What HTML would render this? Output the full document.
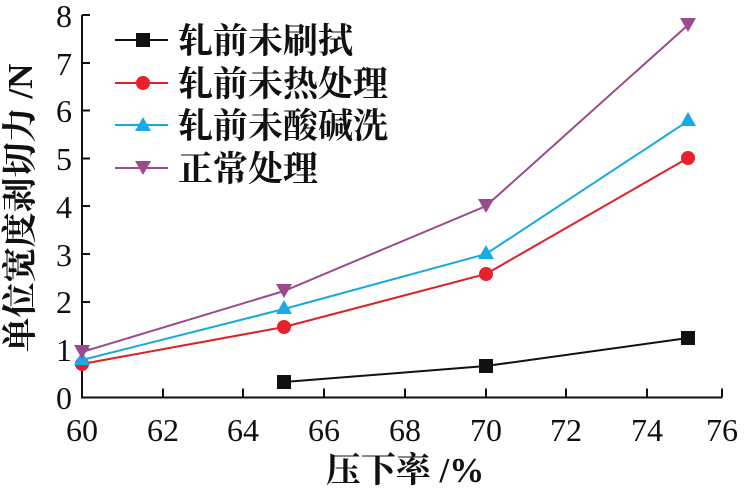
<!DOCTYPE html>
<html><head><meta charset="utf-8"><style>
html,body{margin:0;padding:0;background:#fff;}
svg{display:block;}
.n{font-family:"Liberation Serif",serif;font-size:32px;fill:#111;}
.c{font-family:"Liberation Serif","Noto Serif CJK SC",serif;font-size:35px;fill:#111;font-weight:bold;}
</style></head><body>
<svg width="746" height="496" viewBox="0 0 746 496" xmlns="http://www.w3.org/2000/svg">
<g stroke="#111" stroke-width="2" fill="none">
<path d="M82 15 V397.5 H722"/>
<path d="M82 15 h8 M82 63 h8 M82 110.5 h8 M82 158.5 h8 M82 206 h8 M82 254 h8 M82 302 h8 M82 349.5 h8"/>
<path d="M163 397.5 v-9 M243 397.5 v-9 M324 397.5 v-9 M405 397.5 v-9 M486 397.5 v-9 M566 397.5 v-9 M647 397.5 v-9 M722 397.5 v-9"/>
</g>
<g class="n" text-anchor="end">
<text x="72" y="409">0</text><text x="72" y="361">1</text><text x="72" y="313">2</text><text x="72" y="266">3</text>
<text x="72" y="218">4</text><text x="72" y="170">5</text><text x="72" y="122">6</text><text x="72" y="75">7</text><text x="72" y="27">8</text>
</g>
<g class="n" text-anchor="middle">
<text x="82" y="441">60</text><text x="163" y="441">62</text><text x="243" y="441">64</text><text x="324" y="441">66</text>
<text x="405" y="441">68</text><text x="486" y="441">70</text><text x="566" y="441">72</text><text x="647" y="441">74</text><text x="722" y="441">76</text>
</g>
<text class="c" x="405" y="482" text-anchor="middle">压下率 /%</text>
<text class="c" transform="translate(32,208) rotate(-90)" text-anchor="middle">单位宽度剥切力 /N</text>
<g stroke-width="2" fill="none">
<polyline stroke="#111" points="284,382 486,366 688,338"/>
<polyline stroke="#e02027" points="82,364 284,327 486,274 688,158"/>
<polyline stroke="#1aa8e0" points="82,360 284,309 486,254 688,121"/>
<polyline stroke="#9b4a8c" points="82,352 284,291 486,206 688,25"/>
</g>
<g fill="#111"><rect x="277" y="375" width="14" height="14"/><rect x="479" y="359" width="14" height="14"/><rect x="681" y="331" width="14" height="14"/></g>
<g fill="#e8202a"><circle cx="82" cy="364" r="7"/><circle cx="284" cy="327" r="7"/><circle cx="486" cy="274" r="7"/><circle cx="688" cy="158" r="7"/></g>
<g fill="#19aae6"><path d="M82 351 l8 14 h-16z"/><path d="M284 300 l8 14 h-16z"/><path d="M486 245 l8 14 h-16z"/><path d="M688 112 l8 14 h-16z"/></g>
<g fill="#9b4a8c"><path d="M74 345 h16 l-8 14z"/><path d="M276 284 h16 l-8 14z"/><path d="M478 199 h16 l-8 14z"/><path d="M680 18 h16 l-8 14z"/></g>
<g stroke-width="2">
<line x1="115" y1="40" x2="168" y2="40" stroke="#111"/>
<line x1="115" y1="83" x2="168" y2="83" stroke="#e02027"/>
<line x1="115" y1="125" x2="168" y2="125" stroke="#1aa8e0"/>
<line x1="115" y1="168" x2="168" y2="168" stroke="#9b4a8c"/>
</g>
<rect x="136" y="33" width="14" height="14" fill="#111"/>
<circle cx="143" cy="83" r="7" fill="#e8202a"/>
<path d="M143 117 l8 14 h-16z" fill="#19aae6"/>
<path d="M135 161 h16 l-8 14z" fill="#9b4a8c"/>
<g class="c">
<text x="178" y="53">轧前未刷拭</text>
<text x="178" y="96">轧前未热处理</text>
<text x="178" y="138">轧前未酸碱洗</text>
<text x="178" y="181">正常处理</text>
</g>
</svg>
</body></html>
